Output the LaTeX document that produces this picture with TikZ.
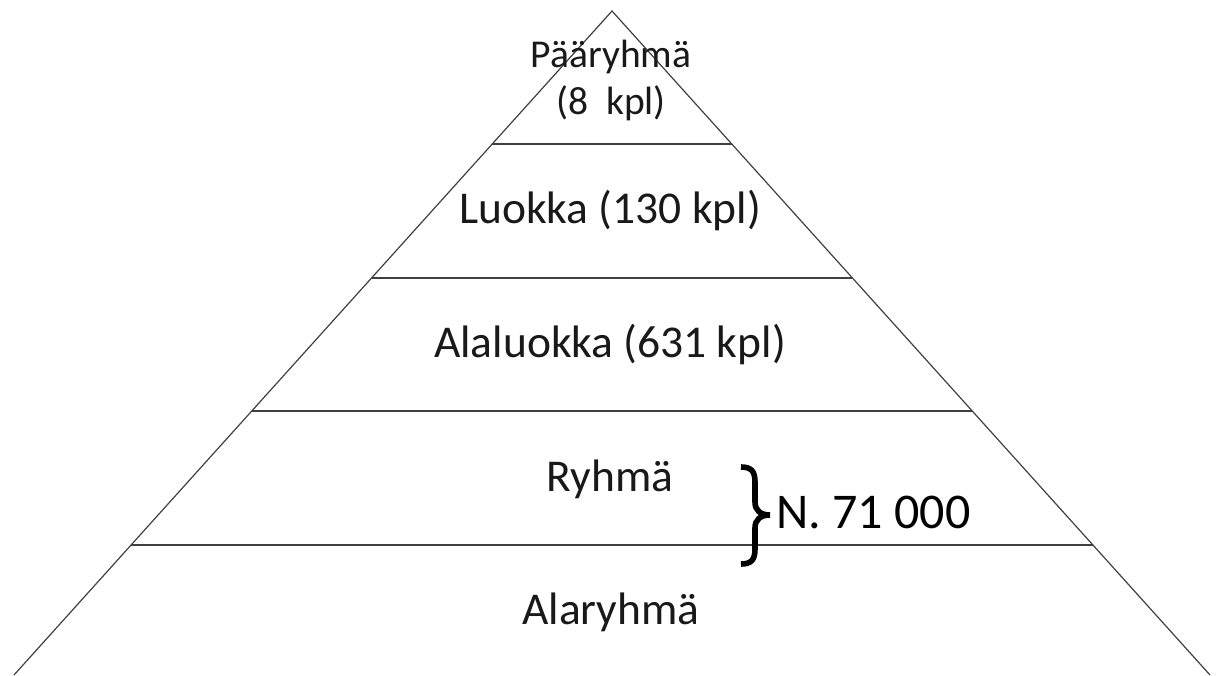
\documentclass[tikz,border=0pt]{standalone}
\usepackage{fontspec}
\setmainfont{Carlito}
\usetikzlibrary{calc}
\begin{document}
\begin{tikzpicture}[x=1pt,y=-1pt,
  edge/.style={draw=black!75,line width=1.2pt},
  label/.style={anchor=base,inner sep=0pt,font=\fontsize{45.5}{50}\selectfont,text=black!90},
  toplabel/.style={anchor=base,inner sep=0pt,font=\fontsize{39.5}{46}\selectfont,text=black!90},
  bracestroke/.style={draw=black,line width=5.6pt,line cap=butt}]
  \useasboundingbox (0,0) rectangle (1216,675);
  % outline of the pyramid (open at the bottom edge)
  \coordinate (apex) at (612,11);
  \coordinate (bl) at (14,675);
  \coordinate (br) at (1210,675);
  \draw[edge] (bl) -- (apex) -- (br);
  % level separators
  \foreach \f/\n in {0.2003/a,0.4021/b,0.6024/c,0.8042/d}{
    \coordinate (l\n) at ($(apex)!\f!(bl)$);
    \coordinate (r\n) at ($(apex)!\f!(br)$);
    \draw[edge] (l\n) -- (r\n);
  }
  % level labels
  \node[toplabel] (paa) at (611,67) {Pääryhmä};
  \node[toplabel] (paakpl) at (611,114) {(8\ \ kpl)};
  \node[label] (luokka) at (610,223) {Luokka (130 kpl)};
  \node[label] (alaluokka) at (610,357) {Alaluokka (631 kpl)};
  \node[label] (ryhma) at (610,491) {Ryhmä};
  \node[label] (alaryhma) at (611,624) {Alaryhmä};
  % curly brace spanning the two lowest levels
  \coordinate (btop) at (741,467);
  \coordinate (btip) at (770,515);
  \coordinate (bbot) at (741,564);
  \draw[bracestroke] (btop) .. controls (751,467) and (755,471) .. (755,482)
    -- (755,502) .. controls (755,510) and (760,515) .. (btip)
    .. controls (760,515) and (755,520) .. (755,528)
    -- (755,549) .. controls (755,560) and (751,564) .. (bbot);
  \node[anchor=base west,inner sep=0pt,font=\fontsize{50}{54}\selectfont] (count) at (776,528) {N. 71 000};
\end{tikzpicture}
\end{document}
